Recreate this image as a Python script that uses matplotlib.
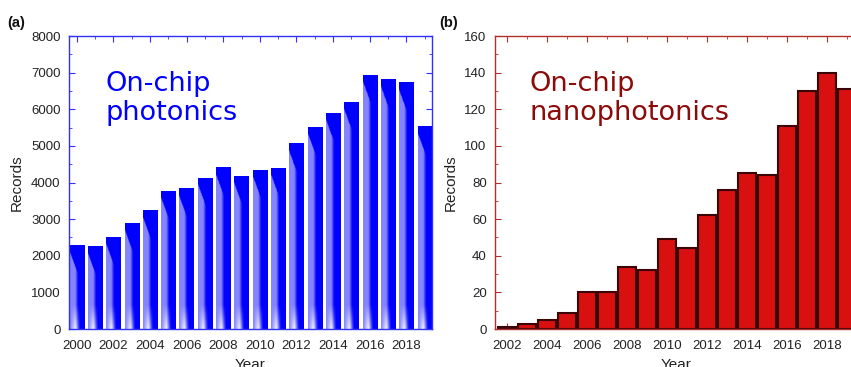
import matplotlib
matplotlib.use("Agg")
import matplotlib.pyplot as plt
import numpy as np
from matplotlib.ticker import MultipleLocator

# data
years_a = list(range(2000, 2020))
records_a = [2290, 2255, 2518, 2882, 3245, 3773, 3845, 4136, 4418, 4191,
             4345, 4409, 5073, 5527, 5909, 6209, 6945, 6818, 6736, 5536]

years_b = list(range(2002, 2020))
records_b = [1, 3, 5, 9, 20, 20, 34, 32, 49, 44,
             62, 76, 85, 84, 111, 130, 140, 131]

plt.rcParams['font.family'] = ['Liberation Sans', 'DejaVu Sans']

fig = plt.figure(figsize=(8.51, 3.67), dpi=100)
ax1 = fig.add_axes([0.0811, 0.1035, 0.4265, 0.7984])
ax2 = fig.add_axes([0.5817, 0.1035, 0.4254, 0.7984])

blue = '#0000ff'
dred = '#8b0a0a'
tick_grey = '#222222'


def style_axes(ax, col):
    for s in ax.spines.values():
        s.set_color(col)
        s.set_linewidth(1.0)
    ax.tick_params(which='both', direction='in', top=True, right=True,
                   color=col, labelcolor=tick_grey, labelsize=9.5)
    ax.tick_params(which='major', length=4.5)
    ax.tick_params(which='minor', length=2.5)
    ax.tick_params(axis='x', which='major', pad=8)
    ax.tick_params(axis='y', which='major', pad=6)


def blue_fill(ax, bar, h):
    # light-left / dark-right shading of the blue bars
    x0 = bar.get_x()
    w = bar.get_width()
    nx, ny = 40, 200
    f = np.linspace(0, 1, nx)[None, :]
    y = np.linspace(0, h, ny)[:, None]
    light = np.clip((0.55 - f) / 0.2, 0, 1)
    dark_top = y > h - 200 - 1100 * f
    light = np.where(dark_top, 0.0, light)
    r = 0.52 * light
    g = 0.52 * light
    b = np.ones_like(r)
    white = np.clip(1 - y / 650, 0, 1) * np.clip(1 - np.abs(f - 0.35) * 3, 0, 1)
    r = r + (1 - r) * white * 0.9
    g = g + (1 - g) * white * 0.9
    img = np.dstack([r, g, b * np.ones_like(r)])
    im = ax.imshow(img, origin='lower', extent=(x0, x0 + w, 0, h),
                   aspect='auto', interpolation='bilinear', zorder=2)
    im.set_clip_path(bar)


# (a) on-chip photonics
bars = ax1.bar(years_a, records_a, width=0.78, color='none', edgecolor='none', zorder=2)
for bar, h in zip(bars, records_a):
    blue_fill(ax1, bar, h)
ax1.set_xlim(1999.58, 2019.4)
ax1.set_ylim(0, 8000)
ax1.xaxis.set_major_locator(MultipleLocator(2))
ax1.xaxis.set_minor_locator(MultipleLocator(1))
ax1.yaxis.set_major_locator(MultipleLocator(1000))
ax1.yaxis.set_minor_locator(MultipleLocator(500))
style_axes(ax1, '#3030ff')
ax1.set_ylabel('Records', fontsize=11, color=tick_grey, labelpad=5)
ax1.set_xlabel('Year', fontsize=11, color=tick_grey, labelpad=4)
ax1.text(0.1, 0.88, 'On-chip\nphotonics', transform=ax1.transAxes,
         fontsize=19.5, color=blue, family='DejaVu Sans', va='top',
         linespacing=1.15)
fig.text(0.009, 0.926, '(a)', fontsize=10.5, fontweight='bold', color='#111111')

# (b) on-chip nanophotonics
ax2.bar(years_b, records_b, width=0.9, color='#d81010', edgecolor='#3a0505',
        linewidth=1.5, zorder=2)
ax2.set_xlim(2001.42, 2019.5)
ax2.set_ylim(0, 160)
ax2.set_xticks(range(2002, 2020, 2))
ax2.xaxis.set_minor_locator(MultipleLocator(1))
ax2.yaxis.set_major_locator(MultipleLocator(20))
ax2.yaxis.set_minor_locator(MultipleLocator(10))
style_axes(ax2, '#b03030')
ax2.set_ylabel('Records', fontsize=11, color=tick_grey, labelpad=5)
ax2.set_xlabel('Year', fontsize=11, color=tick_grey, labelpad=4)
ax2.text(0.095, 0.88, 'On-chip\nnanophotonics', transform=ax2.transAxes,
         fontsize=19.5, color=dred, family='DejaVu Sans', va='top',
         linespacing=1.15)
fig.text(0.516, 0.926, '(b)', fontsize=10.5, fontweight='bold', color='#111111')

fig.savefig('out.png', dpi=100)
